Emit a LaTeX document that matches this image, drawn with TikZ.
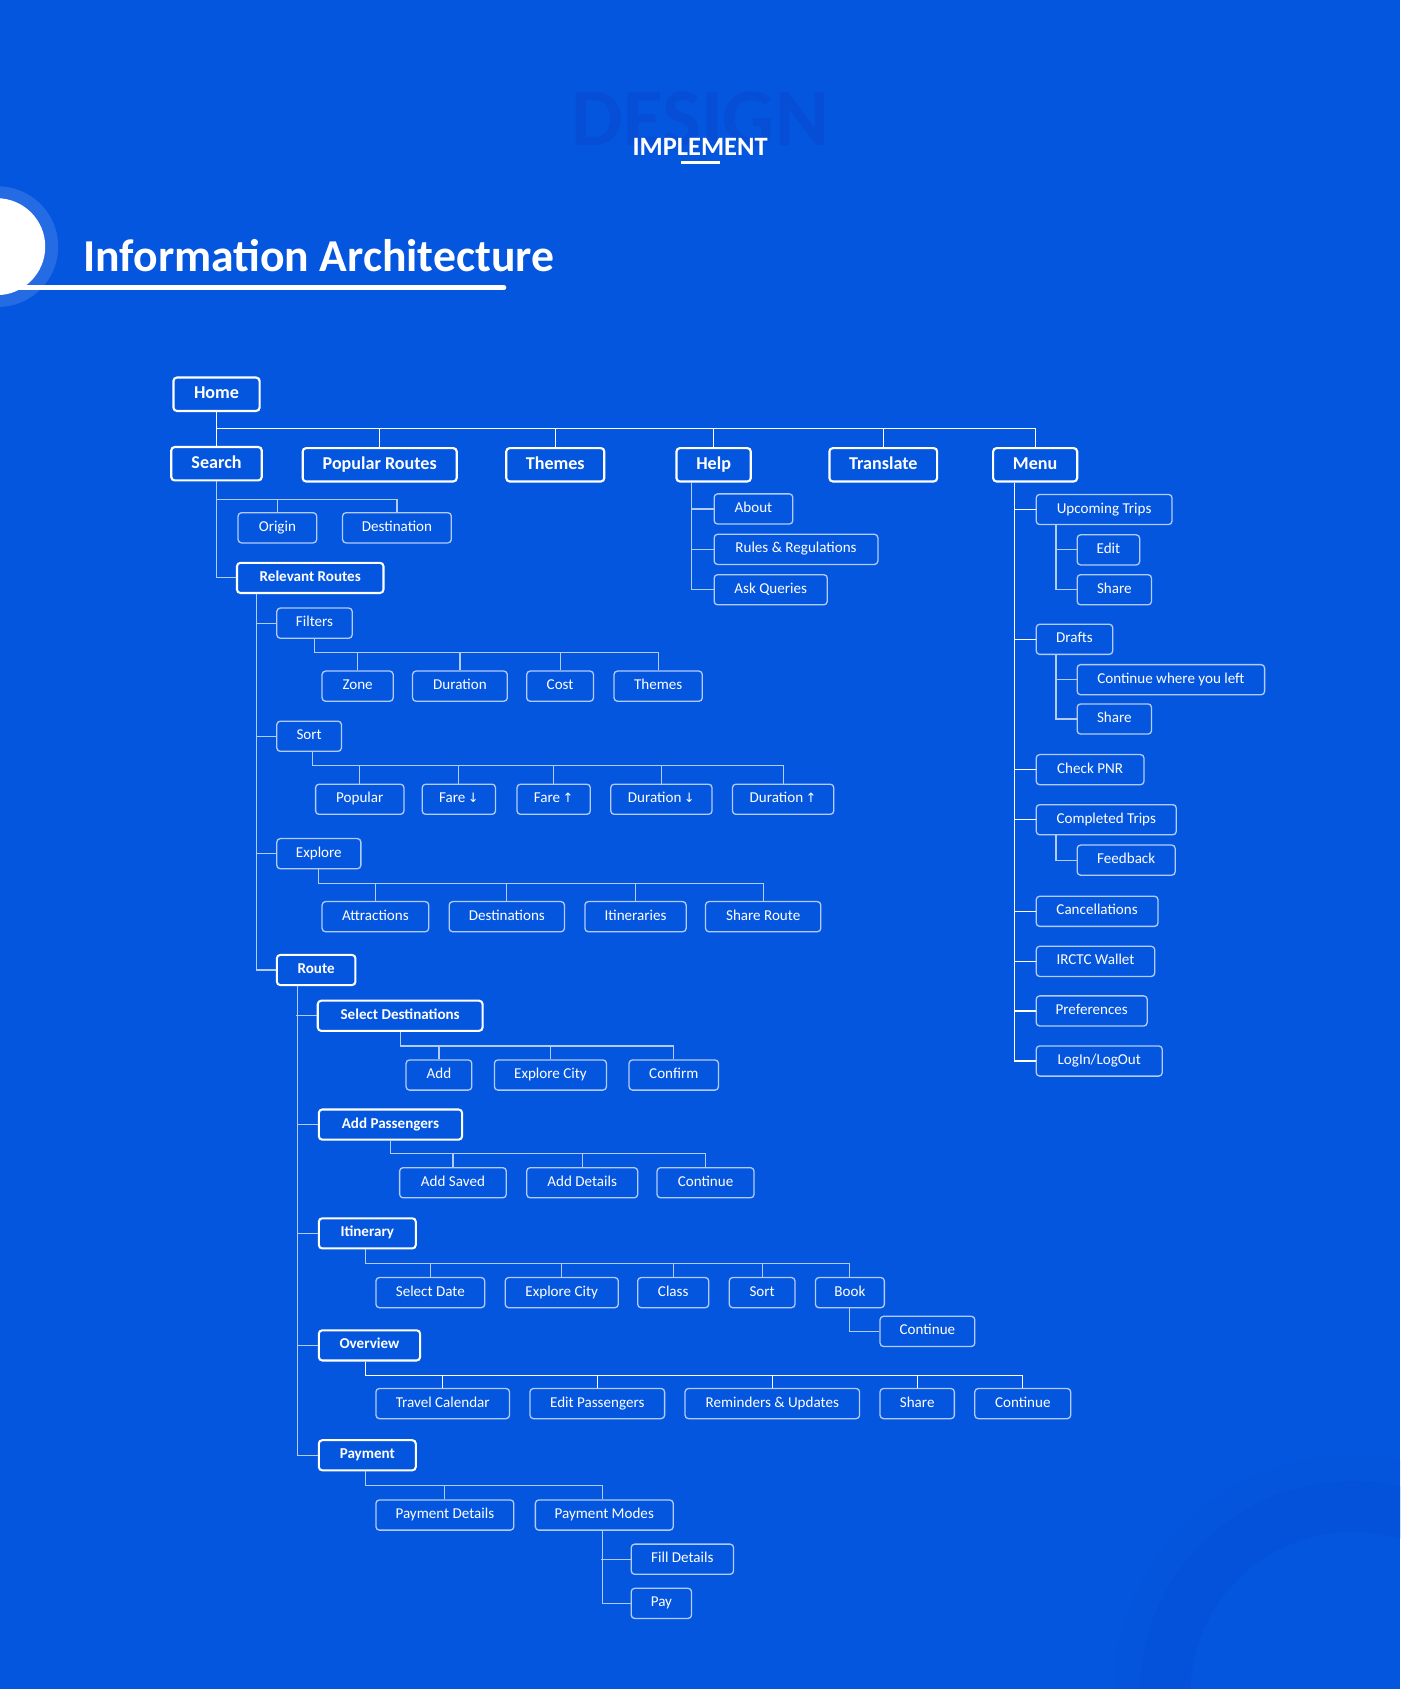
\documentclass[tikz,border=0pt]{standalone}
\usepackage{fontspec}
\setmainfont{Carlito}
\newfontfamily\symf{DejaVu Sans}
\usetikzlibrary{calc}
\definecolor{bg}{RGB}{5,86,223}
\definecolor{bgdark}{RGB}{4,77,212}
\definecolor{designc}{RGB}{6,78,214}
\definecolor{linec}{RGB}{178,204,250}
\newcommand{\dn}{\,{\symf\fontsize{6}{7}\selectfont↓}}
\newcommand{\up}{\,{\symf\fontsize{6}{7}\selectfont↑}}
\begin{document}
\begin{tikzpicture}[x=0.5pt,y=-0.5pt,
  box/.style={rounded corners=1.6pt, inner sep=0pt, text=white, align=center},
  big/.style={box, draw=white, line width=1pt, minimum width=#1*0.5pt, minimum height=15.5pt,
     font=\bfseries\fontsize{8.4}{10}\selectfont, text height=5.6pt, text depth=1.6pt},
  mid/.style={box, draw=white, line width=0.95pt, minimum width=#1*0.5pt, minimum height=14pt,
     font=\bfseries\fontsize{7}{8}\selectfont, text height=4.6pt, text depth=1.3pt},
  sm/.style={box, draw=linec, line width=0.6pt, minimum width=#1*0.5pt, minimum height=14pt,
     font=\fontsize{7}{8}\selectfont, text height=4.6pt, text depth=1.3pt},
  ln/.style={draw=linec, line width=0.55pt},
  lnw/.style={draw=white, line width=0.55pt}
]
\useasboundingbox (0,0) rectangle (1300,1568);
\clip (0,0) rectangle (1300,1568);
\fill[bg] (0,0) rectangle (1300,1568);

% decorations
\fill[bgdark, opacity=0.45, even odd rule] (1256,1573) circle (198) (1256,1573) circle (151);
\fill[bgdark, opacity=0.2, even odd rule] (1256,1573) circle (222) (1256,1573) circle (198);
\fill[white, opacity=0.13] (-2,229) circle (56);
\fill[white] (-3,229) circle (45);
\draw[white, line width=2pt, line cap=round] (-10,267) -- (468,267);

\node[font=\bfseries\fontsize{38}{38}\selectfont, text=designc, inner sep=0] (design) at (650,110) {DESIGN};
\node[font=\bfseries\fontsize{12.3}{14}\selectfont, text=white, inner sep=0] (impl) at (650,136) {IMPLEMENT};
\draw[white, line width=1.5pt] (632,151) -- (668,151);
\node[anchor=base west, font=\bfseries\fontsize{21.2}{24}\selectfont, text=white, inner sep=0] (title) at (77,252) {Information Architecture};

% top level
\node[big=80] (home) at (201,366) {Home};
\node[big=84] (search) at (201,430.5) {Search};
\node[big=143] (poproutes) at (352.5,431.5) {Popular Routes};
\node[big=91] (themes) at (515.5,431.5) {Themes};
\node[big=69] (help) at (662.5,431.5) {Help};
\node[big=100] (translate) at (820,431.5) {Translate};
\node[big=78] (menu) at (961,431.5) {Menu};

\coordinate (hb) at (0,398);
\draw[lnw] (home.south) -- (search.north);
\draw[lnw] (home.south |- hb) -| (menu.north);
\foreach \c in {poproutes,themes,help,translate} \draw[lnw] (\c.north) -- (\c.north |- hb);

% search
\node[sm=73] (origin) at (257.5,490) {Origin};
\node[sm=101] (destination) at (368.5,490) {Destination};
\node[mid=136] (relroutes) at (288,536.5) {Relevant Routes};
\coordinate (sb) at (0,464);
\draw[ln] (search.south) |- (relroutes.west);
\draw[ln] (search.south |- sb) -| (destination.north);
\draw[ln] (origin.north) -- (origin.north |- sb);

% relevant routes
\node[sm=70] (filters) at (292,578.5) {Filters};
\node[sm=66] (zone) at (332,637) {Zone};
\node[sm=88] (duration) at (427,637) {Duration};
\node[sm=62] (cost) at (520,637) {Cost};
\node[sm=82] (fthemes) at (611,637) {Themes};
\node[sm=60] (sort) at (287,683.5) {Sort};
\node[sm=82] (popular) at (334,742) {Popular};
\node[sm=68] (fared) at (426,742) {Fare\dn};
\node[sm=68] (fareu) at (514,742) {Fare\up};
\node[sm=94] (durd) at (614,742) {Duration\dn};
\node[sm=94] (duru) at (727,742) {Duration\up};
\node[sm=78] (explore) at (296,792.5) {Explore};
\node[sm=99] (attractions) at (348.5,851) {Attractions};
\node[sm=107] (destinations) at (470.5,851) {Destinations};
\node[sm=94] (itineraries) at (590,851) {Itineraries};
\node[sm=107] (shareroute) at (708.5,851) {Share Route};
\node[mid=73] (route) at (293.5,900.5) {Route};

\draw[ln] ($(relroutes.south west)+(19,0)$) |- (route.west);
\foreach \c in {filters,sort,explore} \draw[ln] (\c.west) -- ++(-18,0);
\coordinate (fb) at (0,606);
\draw[ln] (filters.south) |- (fthemes.north |- fb) -- (fthemes.north);
\foreach \c in {zone,duration,cost} \draw[ln] (\c.north) -- (\c.north |- fb);
\coordinate (sob) at (0,711);
\draw[ln] ($(sort.south)+(3,0)$) |- (duru.north |- sob) -- (duru.north);
\foreach \c in {popular,fared,fareu,durd} \draw[ln] (\c.north) -- (\c.north |- sob);
\coordinate (eb) at (0,820);
\draw[ln] (explore.south) |- (shareroute.north |- eb) -- (shareroute.north);
\foreach \c in {attractions,destinations,itineraries} \draw[ln] (\c.north) -- (\c.north |- eb);

% route
\node[mid=153] (selectdest) at (371.5,943) {Select Destinations};
\node[sm=61] (add) at (407.5,998) {Add};
\node[sm=104] (explorecity) at (511,998) {Explore City};
\node[sm=83] (confirm) at (625.5,998) {Confirm};
\node[mid=133] (addpass) at (362.5,1044) {Add Passengers};
\node[sm=99] (addsaved) at (420.5,1098) {Add Saved};
\node[sm=103] (adddetails) at (540.5,1098) {Add Details};
\node[sm=90] (conta) at (655,1098) {Continue};
\node[mid=90] (itinerary) at (341,1145) {Itinerary};
\node[sm=101] (seldate) at (399.5,1200) {Select Date};
\node[sm=105] (explorecityb) at (521.5,1200) {Explore City};
\node[sm=66] (class) at (625,1200) {Class};
\node[sm=61] (isort) at (707.5,1200) {Sort};
\node[sm=64] (book) at (789,1200) {Book};
\node[sm=88] (contb) at (861,1236) {Continue};
\node[mid=94] (overview) at (343,1249) {Overview};
\node[sm=124] (travcal) at (411,1303) {Travel Calendar};
\node[sm=125] (editpass) at (554.5,1303) {Edit Passengers};
\node[sm=162] (reminders) at (717,1303) {Reminders \& Updates};
\node[sm=69] (oshare) at (851.5,1303) {Share};
\node[sm=89] (contc) at (949.5,1303) {Continue};
\node[mid=90] (payment) at (341,1351) {Payment};
\node[sm=128] (paydet) at (413,1406.5) {Payment Details};
\node[sm=128] (paymodes) at (561,1406.5) {Payment Modes};
\node[sm=95] (filldet) at (633.5,1447.5) {Fill Details};
\node[sm=56] (pay) at (614,1488.5) {Pay};

\draw[ln] ($(route.south west)+(20,0)$) |- (payment.west);
\foreach \c in {selectdest,addpass,itinerary,overview} \draw[ln] (\c.west) -- ++(-19,0);
\coordinate (b1) at (0,971);
\draw[ln] (selectdest.south) |- (confirm.north |- b1) -- (confirm.north);
\foreach \c in {add,explorecity} \draw[ln] (\c.north) -- (\c.north |- b1);
\coordinate (b2) at (0,1071);
\draw[ln] (addpass.south) |- (conta.north |- b2) -- (conta.north);
\foreach \c in {addsaved,adddetails} \draw[ln] (\c.north) -- (\c.north |- b2);
\coordinate (b3) at (0,1173);
\draw[ln] ($(itinerary.south)+(-2,0)$) |- (book.north |- b3) -- (book.north);
\foreach \c in {seldate,explorecityb,class,isort} \draw[ln] (\c.north) -- (\c.north |- b3);
\draw[ln] (book.south) |- (contb.west);
\coordinate (b4) at (0,1277);
\draw[lnw] ($(overview.south)+(-4,0)$) |- (contc.north |- b4) -- (contc.north);
\foreach \c in {travcal,editpass,reminders,oshare} \draw[lnw] (\c.north) -- (\c.north |- b4);
\coordinate (b5) at (0,1379);
\draw[ln] ($(payment.south)+(-2,0)$) |- ($(paymodes.north |- b5)+(-2,0)$) -- ($(paymodes.north)+(-2,0)$);
\draw[ln] (paydet.north) -- (paydet.north |- b5);
\draw[ln] ($(paymodes.south)+(-2,0)$) |- (pay.west);
\draw[ln] (filldet.west) -- ++(-27,0);

% help
\node[sm=73] (about) at (699.5,472.5) {About};
\node[sm=152] (rules) at (739,510) {Rules \& Regulations};
\node[sm=105] (ask) at (715.5,547.5) {Ask Queries};
\draw[ln] ($(help.south west)+(15,0)$) |- (ask.west);
\foreach \c in {about,rules} \draw[ln] (\c.west) -- ++(-20,0);

% menu
\node[sm=126] (upcoming) at (1025,473) {Upcoming Trips};
\node[sm=58] (edit) at (1029,510.5) {Edit};
\node[sm=69] (ushare) at (1034.5,547.5) {Share};
\node[sm=71] (drafts) at (997.5,593.5) {Drafts};
\node[sm=174] (contwhere) at (1087,631) {Continue where you left};
\node[sm=69] (dshare) at (1034.5,667.5) {Share};
\node[sm=100] (pnr) at (1012,714.5) {Check PNR};
\node[sm=130] (completed) at (1027,761) {Completed Trips};
\node[sm=91] (feedback) at (1045.5,798.5) {Feedback};
\node[sm=113] (cancel) at (1018.5,846) {Cancellations};
\node[sm=110] (wallet) at (1017,892.5) {IRCTC Wallet};
\node[sm=103] (prefs) at (1013.5,938.5) {Preferences};
\node[sm=117] (login) at (1020.5,985) {LogIn/LogOut};

\draw[lnw] ($(menu.south west)+(21,0)$) |- (login.west);
\foreach \c in {upcoming,drafts,pnr,completed,cancel,wallet,prefs} \draw[lnw] (\c.west) -- ++(-19,0);
\draw[ln] ($(upcoming.south west)+(19,0)$) |- (ushare.west);
\draw[ln] (edit.west) -- ++(-19,0);
\draw[ln] ($(drafts.south west)+(19,0)$) |- (dshare.west);
\draw[ln] (contwhere.west) -- ++(-19,0);
\draw[ln] ($(completed.south west)+(19,0)$) |- (feedback.west);
\end{tikzpicture}
\end{document}
